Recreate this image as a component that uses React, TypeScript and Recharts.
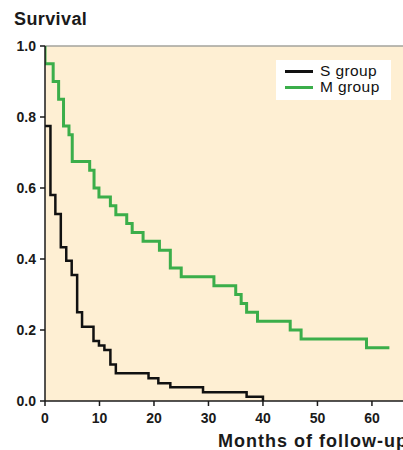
import { CartesianGrid, Legend, Line, LineChart, ReferenceLine, XAxis, YAxis } from 'recharts';

// S group: step times (months) and survival after each step
const sTimes = [0, 1, 1.9, 2.9, 3.9, 4.9, 5.9, 6.8, 8.9, 9.9, 10.9, 12, 13, 19, 20.8, 23, 29, 37, 40];
const sSurvival = [0.775, 0.58, 0.527, 0.433, 0.395, 0.355, 0.25, 0.209, 0.169, 0.156, 0.144, 0.103, 0.078, 0.064, 0.05, 0.039, 0.025, 0.012, 0];

// M group
const mTimes = [0, 0, 1.5, 2.5, 3.4, 4.4, 5, 8.2, 9, 9.9, 12, 13, 15, 16, 18, 21, 23, 25, 31, 35, 36, 37, 39, 45, 47, 59, 63.2];
const mSurvival = [1, 0.95, 0.9, 0.85, 0.775, 0.75, 0.675, 0.65, 0.6, 0.575, 0.55, 0.525, 0.5, 0.475, 0.45, 0.425, 0.375, 0.35, 0.325, 0.3, 0.275, 0.25, 0.225, 0.2, 0.175, 0.15, 0.15];

const xTicks = [0, 10, 20, 30, 40, 50, 60];
const yTicks = [0, 0.2, 0.4, 0.6, 0.8, 1.0];
const xMax = 65.7;

const FONT = '"Liberation Sans", Arial, sans-serif';
const GREEN = '#3bae4a';
const CREAM = '#feefd3';

const toPoints = (times: number[], values: number[]) =>
  times.map((t, i) => ({ t, s: values[i] }));

const sData = toPoints(sTimes, sSurvival);
const mData = toPoints(mTimes, mSurvival);

function LegendBox({ payload }: { payload?: { value: string; color: string }[] }) {
  return (
    <div style={{ background: '#fff', width: 115, height: 40, boxSizing: 'border-box', padding: '3px 0 0 9px' }}>
      {(payload ?? []).map((p) => (
        <div key={p.value} style={{ display: 'flex', alignItems: 'center', height: 16 }}>
          <span style={{ display: 'inline-block', width: 28, height: 3, background: p.color, marginRight: 7 }} />
          <span style={{ fontFamily: FONT, fontSize: 15.5, letterSpacing: 0.4, color: '#111', lineHeight: '16px' }}>{p.value}</span>
        </div>
      ))}
    </div>
  );
}

export default function App() {
  const tickStyle = { fontFamily: FONT, fontSize: 14, fontWeight: 700, fill: '#1a1a1a' };
  return (
    <div style={{ position: 'absolute', left: 0, top: 0, width: 403, height: 450, background: '#fff', overflow: 'hidden' }}>
      <div style={{ position: 'absolute', left: 14, top: 10, fontFamily: FONT, fontSize: 18, fontWeight: 700, letterSpacing: 0.4, lineHeight: '18px', color: '#1a1a1a' }}>
        Survival
      </div>
      <LineChart width={403} height={450} margin={{ top: 46, right: 0, bottom: 19, left: 0 }}>
        <CartesianGrid horizontal={false} vertical={false} fill={CREAM} stroke="none" />
        <XAxis
          type="number"
          dataKey="t"
          domain={[0, xMax]}
          ticks={xTicks}
          allowDataOverflow
          height={30}
          tickSize={5}
          tickMargin={7}
          tick={tickStyle}
          stroke="#1a1a1a"
          strokeWidth={1.5}
        />
        <YAxis
          type="number"
          dataKey="s"
          domain={[0, 1]}
          ticks={yTicks}
          width={45}
          tickSize={5}
          tickMargin={4}
          tick={tickStyle}
          tickFormatter={(v: number) => v.toFixed(1)}
          stroke="#1a1a1a"
          strokeWidth={1.5}
        />
        <ReferenceLine y={1} stroke="#a3a39c" strokeWidth={1.5} />
        <Line
          data={mData}
          dataKey="s"
          name="M group"
          type="stepAfter"
          stroke={GREEN}
          strokeWidth={3}
          dot={false}
          isAnimationActive={false}
        />
        <Line
          data={sData}
          dataKey="s"
          name="S group"
          type="stepAfter"
          stroke="#111"
          strokeWidth={2.5}
          dot={false}
          isAnimationActive={false}
        />
        <Legend
          layout="horizontal"
          verticalAlign="middle"
          align="center"
          wrapperStyle={{ left: 276, top: 60, width: 115 }}
          content={(props: any) => {
            const items = [...(props.payload ?? [])].sort((a: any, b: any) => (a.value > b.value ? -1 : 1));
            return <LegendBox payload={items} />;
          }}
        />
      </LineChart>
      <div style={{ position: 'absolute', left: 218, top: 432, fontFamily: FONT, fontSize: 18, fontWeight: 700, letterSpacing: 1, lineHeight: '18px', color: '#1a1a1a', whiteSpace: 'nowrap' }}>
        Months of follow-up
      </div>
    </div>
  );
}
